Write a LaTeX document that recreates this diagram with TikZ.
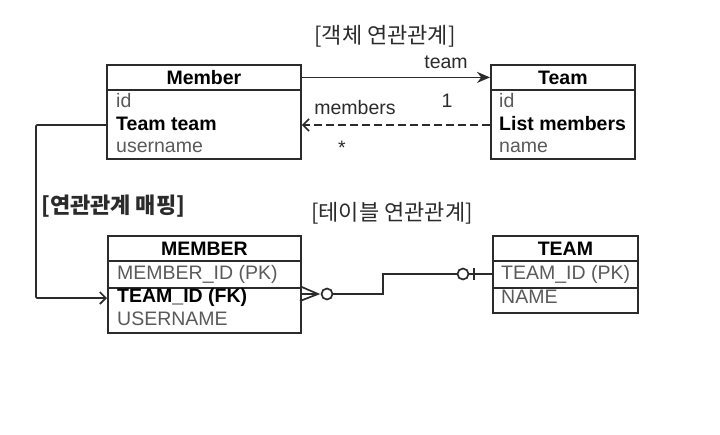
\documentclass[tikz,border=0pt]{standalone}
\usepackage{fontspec}
\setmainfont{Liberation Sans}
\newfontfamily\kofont{Noto Sans CJK KR}
\usetikzlibrary{arrows.meta,positioning}
\definecolor{boxline}{HTML}{2B2B2B}
\definecolor{rowgray}{HTML}{5A5A5A}
\newcommand{\dgsize}{\fontsize{19.5}{22}\selectfont}
\newcommand{\kosize}{\fontsize{22}{24}\selectfont}
\tikzset{
  class head/.style={draw=boxline,line width=1.8pt,anchor=north west,inner sep=0pt,font=\dgsize\bfseries,text=black},
  class body/.style={draw=boxline,line width=1.8pt,anchor=north west,inner sep=0pt},
  row text/.style={anchor=west,inner sep=0pt,text height=14pt,text depth=4pt,font=\dgsize,text=rowgray},
  key row/.style={row text,font=\dgsize\bfseries,text=black},
  edge label/.style={inner sep=0pt,font=\dgsize,text=boxline},
  tag label/.style={inner sep=0pt,font=\kofont\kosize,text=boxline},
  assoc edge/.style={line width=1.7pt,boxline,-{Stealth[length=13pt,width=11pt]}},
  back edge/.style={line width=1.7pt,boxline,dash pattern=on 8pt off 4pt,-{Straight Barb[length=6pt,width=12pt]}},
  map edge/.style={line width=1.7pt,boxline,rounded corners=1pt,-{Straight Barb[length=6pt,width=12pt]}},
  er edge/.style={line width=1.7pt,boxline},
  er ring/.style={circle,draw=boxline,line width=1.7pt,minimum size=11pt,inner sep=0pt,fill=white},
}

\begin{document}
\begin{tikzpicture}[x=1pt,y=-1pt]
  \fill[white] (0,0) rectangle (720,434);
  \useasboundingbox (0,0) rectangle (720,434);

  % object model
  \node[class head,minimum width=194pt,minimum height=25pt] (memH) at (106,64) {Member};
  \node[class body,minimum width=194pt,minimum height=69pt] (memB) at (106,89) {};
  \node[row text] (memId) at (116,102) {id};
  \node[key row] (memTeam) at (116,125) {Team team};
  \node[row text] (memName) at (116,147) {username};

  \node[class head,minimum width=144pt,minimum height=25pt] (teamH) at (490,64) {Team};
  \node[class body,minimum width=144pt,minimum height=69pt] (teamB) at (490,89) {};
  \node[row text] (teamId) at (499,102) {id};
  \node[key row] (teamList) at (499,125) {List members};
  \node[row text] (teamName) at (499,147) {name};

  \draw[assoc edge] (memH.east) -- (teamH.west);
  \draw[back edge] (teamB.west |- teamList) -- (memB.east |- teamList);
  \node[edge label] (lblTeam) at (446,62) {team};
  \node[edge label] (lblOne) at (447,101) {1};
  \node[edge label] (lblMembers) at (355,108) {members};
  \node[edge label] (lblMany) at (342,148) {*};
  \node[tag label] (tagObj) at (385,36) {[객체 연관관계]};

  % table model
  \node[class head,minimum width=193pt,minimum height=25pt] (MEMH) at (107,235) {MEMBER};
  \node[class body,minimum width=193pt,minimum height=27pt] (MEMr1) at (107,260) {};
  \node[class body,minimum width=193pt,minimum height=45pt] (MEMr2) at (107,287) {};
  \node[row text] (MEMpk) at (117,274) {MEMBER\_ID (PK)};
  \node[key row] (MEMfk) at (117,297) {TEAM\_ID (FK)};
  \node[row text] (MEMname) at (117,320) {USERNAME};

  \node[class head,minimum width=145pt,minimum height=25pt] (TEAMH) at (492,235) {TEAM};
  \node[class body,minimum width=145pt,minimum height=27pt] (TEAMr1) at (492,260) {};
  \node[class body,minimum width=145pt,minimum height=25pt] (TEAMr2) at (492,287) {};
  \node[row text] (TEAMpk) at (501,274) {TEAM\_ID (PK)};
  \node[row text] (TEAMname) at (501,298) {NAME};

  \node[tag label] (tagTable) at (392,213) {[테이블 연관관계]};
  \node[tag label,anchor=west,font=\kofont\bfseries\kosize] (tagMap) at (41,206) {[연관관계 매핑]};

  % mapping
  \coordinate (bend) at (36,125);
  \draw[map edge] (memB.west |- memTeam) -- (bend) |- (MEMr2.west |- 0,298);

  % crow's foot
  \coordinate (crow) at (318,294);
  \coordinate (elbow) at (383,274);
  \node[er ring] (mring) at (327,294) {};
  \node[er ring] (tring) at (463,274) {};
  \draw[er edge] (MEMr2.north east) -- (crow) -- +(-18,7);
  \draw[er edge] (MEMr2.east |- crow) -- (crow);
  \draw[er edge] (mring) -| (elbow) -- (tring);
  \draw[er edge] (tring) -- (TEAMr1.west |- tring);
  \draw[er edge] ([xshift=11pt,yshift=6pt]tring.center) -- ([xshift=11pt,yshift=-6pt]tring.center);
\end{tikzpicture}
\end{document}
